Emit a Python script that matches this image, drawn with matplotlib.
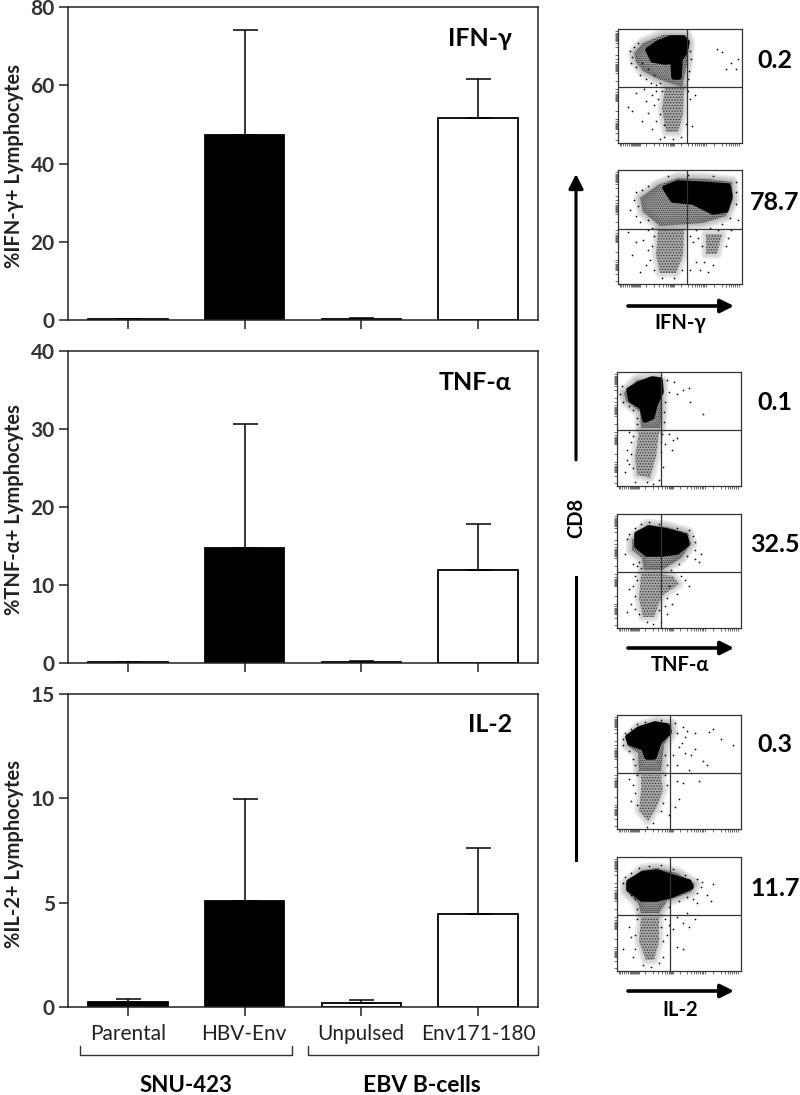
"""
Cytokine bars (left) and flow plots (right)
"""

import matplotlib
matplotlib.use("Agg")
import matplotlib.pyplot as plt
from matplotlib.patches import Polygon

plt.rcParams["font.family"] = ["Lato", "DejaVu Sans"]
plt.rcParams["hatch.linewidth"] = 0.6

W, H = 800, 1095

# bar data
categories = ["Parental", "HBV-Env", "Unpulsed", "Env171-180"]
bar_colors = ["black", "black", "white", "white"]

ifn_means = [0.2, 47.3, 0.3, 51.7]
ifn_tops = [0.3, 74.1, 0.6, 61.7]
tnf_means = [0.1, 14.7, 0.15, 11.9]
tnf_tops = [0.15, 30.7, 0.2, 17.8]
il2_means = [0.25, 5.1, 0.2, 4.45]
il2_tops = [0.37, 9.95, 0.33, 7.6]

# flow plot shapes (pixels inside each plot)
p1_core = [(30, 21), (40, 14), (53, 9), (65, 9), (69, 13), (67, 23), (62, 30), (61, 48), (56, 48), (55, 32), (47, 33), (35, 31)]
p1_halo = [(16, 24), (25, 14), (45, 6), (68, 6), (71, 15), (69, 35), (64, 58), (40, 50), (25, 42), (18, 33)]
p1_low = [(47, 58), (66, 58), (65, 85), (60, 103), (48, 103), (44, 80)]
p1_dots = [(99, 20), (104, 23), (120, 30), (113, 34), (108, 40), (118, 40), (77, 66), (74, 97), (10, 78), (18, 64),
           (28, 72), (30, 84), (34, 100), (24, 92), (36, 76), (42, 110), (38, 62), (72, 70), (26, 60), (14, 82),
           (14, 28), (12, 22), (16, 18), (20, 14), (13, 34), (18, 38), (22, 46), (28, 50), (33, 54), (38, 56),
           (24, 34), (30, 40), (36, 46), (42, 54), (72, 22), (73, 30), (71, 42), (70, 50), (68, 12), (44, 62),
           (40, 70), (42, 85), (38, 92), (46, 108), (55, 110), (68, 95), (70, 62), (46, 96), (63, 108), (34, 66)]

p2_core = [(47, 18), (60, 13), (80, 14), (110, 16), (112, 26), (108, 40), (95, 42), (75, 32), (55, 30)]
p2_halo = [(22, 28), (40, 15), (60, 8), (90, 9), (114, 12), (115, 30), (108, 46), (85, 53), (42, 56), (25, 42)]
p2_low = [(40, 60), (66, 60), (65, 85), (58, 103), (42, 103), (38, 85)]
p2_low2 = [(88, 64), (104, 64), (99, 84), (88, 84)]
p2_dots = [(12, 40), (16, 30), (10, 62), (18, 72), (14, 85), (25, 70), (28, 95), (30, 80), (22, 102), (75, 72),
           (78, 92), (82, 100), (72, 100), (110, 68), (113, 60), (95, 95), (90, 102), (30, 60), (78, 60), (120, 50),
           (18, 22), (24, 20), (30, 16), (20, 36), (18, 46), (22, 52), (30, 50), (34, 58), (36, 66), (34, 76),
           (32, 90), (36, 100), (44, 108), (56, 108), (64, 100), (72, 66), (80, 68), (84, 76), (86, 92), (108, 76),
           (100, 60), (92, 58), (118, 22), (118, 34), (112, 48), (104, 54), (118, 12), (50, 6), (70, 5), (95, 6)]

p3_core = [(12, 18), (22, 12), (35, 7), (43, 8), (44, 20), (38, 32), (35, 45), (28, 48), (25, 35), (14, 28)]
p3_halo = [(7, 21), (20, 8), (40, 6), (45, 10), (45, 35), (43, 56), (24, 56), (23, 40), (9, 29)]
p3_low = [(22, 60), (42, 60), (39, 85), (33, 106), (20, 103), (18, 85)]
p3_dots = [(50, 8), (57, 10), (60, 22), (66, 18), (72, 16), (73, 30), (86, 42), (52, 62), (56, 68), (48, 72),
           (55, 78), (10, 78), (14, 70), (12, 92), (8, 100), (46, 95), (42, 108), (60, 66), (52, 20), (12, 60),
           (5, 14), (3, 22), (6, 30), (12, 34), (16, 38), (20, 46), (20, 52), (47, 40), (48, 30), (47, 50),
           (14, 82), (16, 96), (18, 110), (30, 110), (36, 112), (44, 80), (44, 70), (45, 62), (16, 64), (10, 88)]

p4_core = [(20, 20), (32, 14), (50, 17), (68, 22), (70, 30), (60, 38), (45, 40), (30, 40), (20, 32)]
p4_halo = [(15, 26), (30, 11), (50, 13), (71, 19), (74, 30), (64, 44), (45, 56), (27, 56), (25, 44), (15, 36)]
p4_low = [(24, 60), (42, 60), (56, 62), (62, 70), (45, 82), (37, 103), (26, 103), (22, 85)]
p4_dots = [(10, 25), (8, 40), (16, 50), (78, 45), (82, 48), (84, 40), (12, 75), (14, 90), (18, 95), (10, 98),
           (48, 92), (50, 100), (44, 108), (55, 90), (60, 80), (68, 66), (18, 62), (78, 36), (20, 52), (30, 108),
           (12, 20), (18, 14), (24, 10), (32, 8), (42, 10), (60, 14), (72, 16), (76, 22), (78, 28), (70, 42),
           (62, 50), (54, 56), (22, 48), (24, 54), (16, 72), (18, 82), (64, 62), (72, 72), (50, 84), (42, 96),
           (22, 100), (36, 110), (20, 66), (52, 72)]

p5_core = [(11, 22), (22, 14), (38, 9), (50, 11), (52, 17), (42, 27), (37, 42), (30, 42), (27, 33), (13, 28)]
p5_halo = [(10, 24), (22, 12), (40, 7), (54, 9), (55, 17), (47, 30), (44, 56), (22, 56), (21, 38), (10, 30)]
p5_low = [(24, 60), (44, 60), (46, 75), (39, 94), (31, 106), (22, 96), (24, 75)]
p5_dots = [(60, 18), (66, 12), (70, 16), (78, 18), (92, 17), (96, 14), (104, 24), (116, 30), (62, 32), (68, 38),
           (74, 40), (78, 34), (86, 46), (60, 50), (72, 55), (82, 66), (66, 68), (62, 84), (58, 92), (12, 64),
           (14, 86), (52, 100), (65, 28), (90, 50), (74, 58), (60, 66), (68, 22), (56, 40),
           (6, 24), (8, 18), (14, 14), (20, 9), (28, 7), (44, 5), (58, 8), (6, 30), (12, 36), (16, 44),
           (18, 50), (20, 60), (48, 40), (50, 50), (48, 60), (50, 70), (18, 78), (20, 90), (44, 96), (36, 108),
           (30, 112), (46, 88), (16, 70)]

p6_core = [(12, 25), (25, 17), (40, 15), (55, 20), (72, 25), (74, 30), (55, 38), (40, 42), (25, 42), (12, 32)]
p6_halo = [(9, 27), (25, 13), (40, 11), (60, 16), (78, 27), (74, 35), (50, 44), (42, 56), (24, 56), (21, 46), (9, 34)]
p6_low = [(24, 60), (42, 60), (42, 85), (37, 103), (29, 103), (22, 85)]
p6_dots = [(85, 25), (96, 27), (90, 38), (94, 44), (76, 42), (80, 46), (60, 60), (66, 66), (72, 70), (78, 62),
           (56, 72), (60, 90), (66, 92), (52, 68), (12, 70), (6, 92), (14, 80), (18, 92), (50, 78), (46, 100), (70, 56),
           (6, 26), (8, 20), (14, 16), (22, 11), (32, 9), (44, 8), (56, 12), (68, 18), (80, 22), (84, 30),
           (80, 36), (70, 40), (62, 44), (52, 50), (18, 42), (14, 38), (20, 52), (20, 62), (18, 78), (44, 70),
           (46, 84), (26, 108), (34, 110), (42, 106), (48, 62), (16, 100)]

flow_ticks_x = [2, 3, 5, 7, 9, 11, 13, 14, 15, 16, 17, 18, 19, 20, 21, 22, 28, 36, 41, 45, 48, 50, 52, 53, 54, 55, 56,
                63, 70, 74, 77, 79, 81, 83, 85, 86, 88, 96, 104, 108, 111, 113, 115, 117, 119, 121]
flow_ticks_y = [2, 4, 5, 6, 7, 8, 9, 10, 11, 12, 14, 18, 26, 30, 33, 35, 36, 37, 38, 39, 40, 41, 42, 44, 52, 60, 63, 65,
                66, 67, 68, 69, 70, 71, 72, 82, 90, 92, 94, 95, 96, 97, 98, 99, 100, 104, 111]


def bar_panel(top, bottom, means, tops, ymax, yticks, ylabel, title, title_x):
    ax = fig.add_axes([68 / W, 1 - bottom / H, 470 / W, (bottom - top) / H])
    x = range(len(categories))
    errs = [t - m for t, m in zip(tops, means)]
    ax.bar(x, means, width=0.68, color=bar_colors, edgecolor="black", linewidth=1.3,
           yerr=[[0] * 4, errs], error_kw=dict(ecolor="black", elinewidth=1.1, capsize=9, capthick=1.1))
    ax.set_xlim(-0.514, 3.514)
    ax.set_ylim(0, ymax)
    ax.set_yticks(yticks)
    ax.set_xticks(list(x))
    ax.set_xticklabels([])
    ax.tick_params(axis="both", length=6.5, width=1.1, color="#222222", pad=3)
    ax.tick_params(axis="y", labelsize=15, labelcolor="#333333")
    for label in ax.get_yticklabels():
        label.set_fontweight("bold")
    for s in ax.spines.values():
        s.set_linewidth(1.1)
        s.set_color("#222222")
    over.text(14, (top + bottom) / 2 + 3, ylabel, rotation=90, ha="center", va="center",
              fontsize=14.5, fontweight="bold", color="#222222")
    over.text(title_x, top + 31, title, ha="center", va="center", fontsize=18, fontweight="bold")
    return ax


def flow_plot(left, top, vx, hy, core, halo, lows, dots):
    ax = fig.add_axes([left / W, 1 - (top + 114) / H, 124 / W, 114 / H])
    ax.set_xlim(0, 124)
    ax.set_ylim(114, 0)
    # soft edges on the dotted cloud
    for lw in (9, 6, 3):
        ax.add_patch(Polygon(halo, closed=True, facecolor="none", edgecolor="#666666", linewidth=lw,
                             alpha=0.16, joinstyle="round"))
    ax.add_patch(Polygon(halo, closed=True, facecolor="#777777", edgecolor="none", alpha=0.7))
    for low in lows:
        for lw in (7, 4):
            ax.add_patch(Polygon(low, closed=True, facecolor="none", edgecolor="#888888", linewidth=lw,
                                 alpha=0.18, joinstyle="round"))
        ax.add_patch(Polygon(low, closed=True, facecolor="#a8a8a8", edgecolor="#333333",
                             hatch="......", linewidth=0))
    ax.add_patch(Polygon(halo, closed=True, facecolor="none", edgecolor="#333333",
                         hatch="........", linewidth=0))
    ax.add_patch(Polygon(core, closed=True, facecolor="black", edgecolor="black", linewidth=4,
                         joinstyle="round"))
    ax.scatter([d[0] for d in dots], [d[1] for d in dots], s=1.5, color="black", linewidths=0)
    ax.axvline(vx, color="#333333", lw=0.9)
    ax.axhline(hy, color="#333333", lw=0.9)
    ax.set_xticks(flow_ticks_x)
    ax.set_yticks(flow_ticks_y)
    ax.set_xticklabels([])
    ax.set_yticklabels([])
    ax.tick_params(axis="both", length=2, width=0.5, color="#333333")
    for s in ax.spines.values():
        s.set_linewidth(0.9)
        s.set_color("#333333")


def arrow(x0, y0, x1, y1, lw, size):
    over.annotate("", xy=(x1, y1), xytext=(x0, y0),
                  arrowprops=dict(arrowstyle="-|>", color="black", lw=lw, mutation_scale=size,
                                  shrinkA=0, shrinkB=0))


fig = plt.figure(figsize=(8, 10.95), dpi=100)

# pixel overlay for the loose labels, brackets and arrows
over = fig.add_axes([0, 0, 1, 1], zorder=5)
over.set_xlim(0, W)
over.set_ylim(H, 0)
over.axis("off")

bar_panel(7, 320, ifn_means, ifn_tops, 80, [0, 20, 40, 60, 80], "%IFN-\u03b3+ Lymphocytes", "IFN-\u03b3", 480)
bar_panel(351, 663, tnf_means, tnf_tops, 40, [0, 10, 20, 30, 40], "%TNF-\u03b1+ Lymphocytes", "TNF-\u03b1", 475)
bar_panel(694, 1007, il2_means, il2_tops, 15, [0, 5, 10, 15], "%IL-2+ Lymphocytes", "IL-2", 490)

for cx, name in zip([128, 244, 361, 478], categories):
    over.text(cx, 1034, name, ha="center", va="center", fontsize=15, color="#222222")

for x0, x1 in [(80, 292), (308, 538)]:
    over.plot([x0, x0, x1, x1], [1046, 1055, 1055, 1046], color="#333333", lw=1.0)
over.text(186, 1086, "SNU-423", ha="center", va="center", fontsize=16, fontweight="bold")
over.text(422, 1086, "EBV B-cells", ha="center", va="center", fontsize=16.5, fontweight="bold")

flow_plot(618, 29, 69, 58, p1_core, p1_halo, [p1_low], p1_dots)
flow_plot(618, 170, 69, 59, p2_core, p2_halo, [p2_low, p2_low2], p2_dots)
flow_plot(617, 372, 44, 58, p3_core, p3_halo, [p3_low], p3_dots)
flow_plot(617, 514, 44, 58, p4_core, p4_halo, [p4_low], p4_dots)
flow_plot(617, 715, 53, 58, p5_core, p5_halo, [p5_low], p5_dots)
flow_plot(617, 857, 53, 58, p6_core, p6_halo, [p6_low], p6_dots)

for y, val in zip([60, 203, 402, 544, 745, 888], ["0.2", "78.7", "0.1", "32.5", "0.3", "11.7"]):
    over.text(775, y, val, ha="center", va="center", fontsize=18, fontweight="bold")

# x arrows under the flow plots
for y, name, ly in [(306, "IFN-\u03b3", 323), (648, "TNF-\u03b1", 665), (991, "IL-2", 1010)]:
    arrow(628, y, 734, y, 2.6, 20)
    over.text(680, ly, name, ha="center", va="center", fontsize=14.5, fontweight="bold")

# CD8 axis
arrow(576, 460, 576, 174, 2.2, 22)
over.plot([576, 576], [577, 860], color="black", lw=2.2)
over.text(576, 518, "CD8", rotation=90, ha="center", va="center", fontsize=14.5, fontweight="bold")

fig.savefig("out.png", dpi=100)
plt.close(fig)
